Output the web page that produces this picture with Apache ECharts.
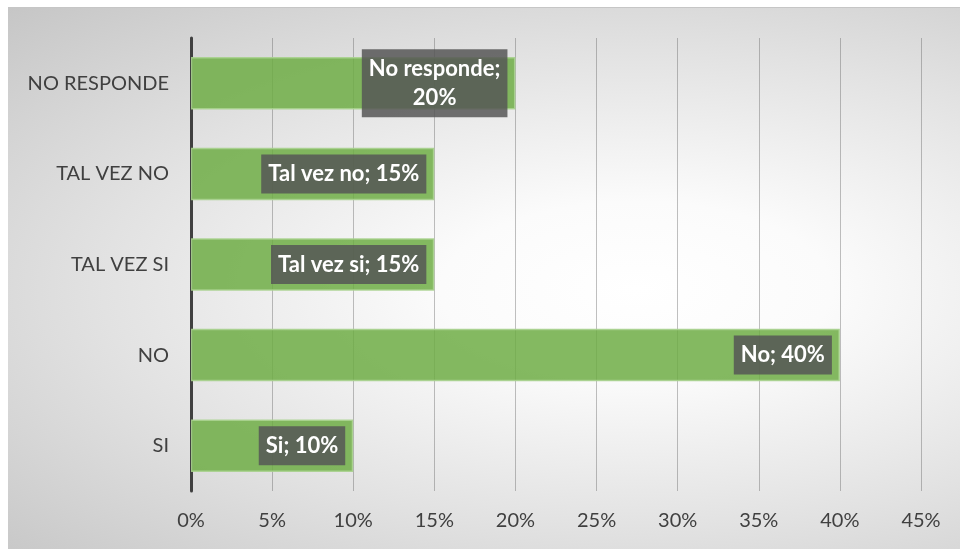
<!DOCTYPE html>
<html>
<head>
<meta charset="utf-8">
<script src="https://cdn.jsdelivr.net/npm/echarts@6/dist/echarts.min.js"></script>
<style>
  html, body { margin: 0; padding: 0; background: #ffffff; }
  #chart {
    position: absolute;
    left: 8px;
    top: 7px;
    width: 952px;
    height: 542px;
    border-top: 1px solid #c6c6c6;
    box-sizing: border-box;
    background: radial-gradient(ellipse farthest-corner at 66% 52%, #ffffff 0%, #fbfbfb 22%, #e2e2e2 60%, #c6c6c6 100%);
  }
</style>
</head>
<body>
<div id="chart"></div>
<script>
// categorias (de abajo hacia arriba)
const categories = ['SI', 'NO', 'TAL VEZ SI', 'TAL VEZ NO', 'NO RESPONDE']
// nombres usados en las etiquetas
const labelNames = ['Si', 'No', 'Tal vez si', 'Tal vez no', 'No responde']
// porcentajes
const values = [10, 40, 15, 15, 20]
// marcas del eje x
const xTicks = [0, 5, 10, 15, 20, 25, 30, 35, 40, 45]

const chart = echarts.init(document.getElementById('chart'), null, { renderer: 'canvas' })

const fontFamily = 'Lato, "Open Sans", sans-serif'

const option = {
  backgroundColor: 'transparent',
  animation: false,
  grid: {
    left: 183,
    right: 39,
    top: 30,
    bottom: 58,
  },
  xAxis: {
    type: 'value',
    min: xTicks[0],
    max: xTicks[xTicks.length - 1],
    interval: 5,
    axisLine: { show: false },
    axisTick: { show: false },
    axisLabel: {
      formatter: '{value}%',
      color: '#404040',
      fontSize: 20,
      fontFamily: fontFamily,
      margin: 20,
    },
    splitLine: {
      show: true,
      lineStyle: { color: 'rgba(90,90,90,0.38)', width: 1 },
    },
  },
  yAxis: {
    type: 'category',
    data: categories,
    axisLine: {
      show: true,
      lineStyle: { color: '#404040', width: 3 },
    },
    axisTick: { show: false },
    axisLabel: {
      color: '#404040',
      fontSize: 20,
      fontFamily: fontFamily,
      margin: 22,
    },
    splitLine: { show: false },
  },
  series: [
    {
      type: 'bar',
      data: values,
      barWidth: '58%',
      z: 1,
      itemStyle: {
        color: 'rgba(112,173,71,0.86)',
        borderColor: 'rgba(169,209,142,0.9)',
        borderWidth: 1.5,
      },
      label: {
        show: true,
        position: 'insideRight',
        distance: 8,
        formatter: function (p) {
          const name = labelNames[p.dataIndex]
          const text = name + '; ' + p.value + '%'
          // la etiqueta larga se parte en dos lineas
          return text.length > 15
            ? '{t|' + name + ';}\n{t|' + p.value + '%}'
            : '{t|' + text + '}'
        },
        backgroundColor: 'rgba(85,85,85,0.84)',
        padding: [5, 7],
        rich: {
          t: {
            color: '#ffffff',
            fontWeight: 'bold',
            fontSize: 22,
            fontFamily: fontFamily,
            lineHeight: 29,
            align: 'center',
          },
        },
      },
    },
  ],
}

chart.setOption(option)
</script>
</body>
</html>
